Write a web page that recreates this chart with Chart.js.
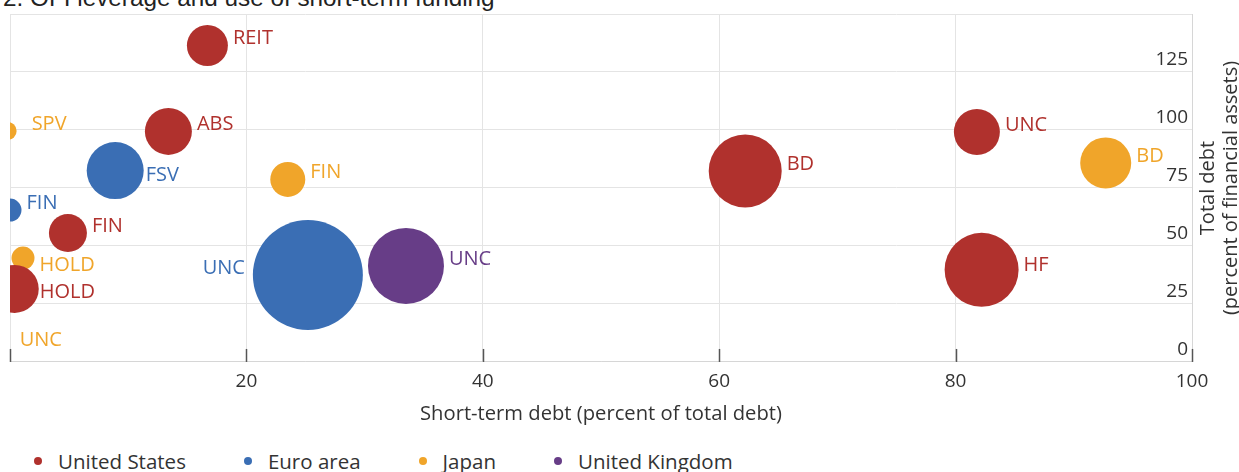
<!DOCTYPE html>
<html>
<head>
<meta charset="utf-8">
<script src="https://cdn.jsdelivr.net/npm/chart.js@4.4.0/dist/chart.umd.min.js"></script>
<style>
  html, body { margin: 0; padding: 0; background: #fff; }
  body { width: 1239px; height: 472px; position: relative; overflow: hidden; font-family: "Open Sans", sans-serif; }
  #title { position: absolute; left: 3px; top: -14px; font: 24.3px/24px "Liberation Sans", Arial, sans-serif; color: #222; white-space: nowrap; }
  #chartBox { position: absolute; left: 0; top: 0; width: 1239px; height: 440px; }
  #legend { position: absolute; left: 34px; top: 447px; display: flex; gap: 58px; font-size: 20.5px; color: #333; white-space: nowrap; }
  .item { display: flex; align-items: center; }
  .dot { width: 8px; height: 8px; border-radius: 50%; margin-right: 16px; }
</style>
</head>
<body>
<div id="title">2. OFI leverage and use of short-term funding</div>
<div id="chartBox"><canvas id="myChart"></canvas></div>
<div id="legend"></div>
<script>
// series
const seriesNames = ["United States", "Euro area", "Japan", "United Kingdom"];
const seriesColors = ["#B0312D", "#3A6EB4", "#F0A52A", "#673D87"];

// x = short-term debt (% of total debt), y = total debt (% of financial assets), r = bubble size
const usSectors = ["REIT", "ABS", "FIN", "HOLD", "BD", "UNC", "HF"];
const usShortTerm = [16.7, 13.4, 4.9, 0.4, 62.2, 81.8, 82.2];
const usTotalDebt = [136.4, 99.4, 55.6, 31.5, 82.3, 99.1, 39.7];
const usSize = [20.5, 23.5, 19, 24, 36.5, 23, 37];

const euSectors = ["FSV", "FIN", "UNC"];
const euShortTerm = [8.9, 0, 25.2];
const euTotalDebt = [82.5, 65.5, 37.5];
const euSize = [28.5, 11.5, 55];

const jpSectors = ["SPV", "FIN", "HOLD", "UNC", "BD"];
const jpShortTerm = [-0.2, 23.5, 1.1, 0.4, 92.7];
const jpTotalDebt = [99.6, 78.7, 44.8, 6.5, 85.8];
const jpSize = [9, 17.5, 11.5, 0, 25.5];

const ukSectors = ["UNC"];
const ukShortTerm = [33.5];
const ukTotalDebt = [41.4];
const ukSize = [38];

const xTicks = [0, 20, 40, 60, 80, 100];
const yTicks = [0, 25, 50, 75, 100, 125, 150];

// label placement tweaks (series:sector)
const labelNudge = {
    "Euro area:UNC": { side: "left", gap: 8 },
    "Euro area:FSV": { dy: 12, gap: 2 },
    "Japan:HOLD": { dy: 14 },
    "United States:HOLD": { dy: 10, gap: 1 },
    "United States:HF": { dy: 2 },
    "Japan:SPV": { gap: 15 }
};

function makePoints(xs, ys, rs) {
    return xs.map(function (x, i) { return { x: x, y: ys[i], r: rs[i] }; });
}

const allSeries = [
    [usSectors, usShortTerm, usTotalDebt, usSize],
    [euSectors, euShortTerm, euTotalDebt, euSize],
    [jpSectors, jpShortTerm, jpTotalDebt, jpSize],
    [ukSectors, ukShortTerm, ukTotalDebt, ukSize]
];

const datasets = allSeries.map(function (s, i) {
    return {
        label: seriesNames[i],
        sectors: s[0],
        data: makePoints(s[1], s[2], s[3]),
        backgroundColor: seriesColors[i],
        borderColor: seriesColors[i],
        borderWidth: 0,
        clip: { left: 0, top: false, right: false, bottom: false }
    };
});

const FONT = "'Open Sans', sans-serif";

// sector names next to bubbles
const bubbleLabels = {
    id: "bubbleLabels",
    afterDatasetsDraw(chart) {
        const ctx = chart.ctx;
        ctx.save();
        ctx.font = "20px " + FONT;
        ctx.textBaseline = "middle";
        chart.data.datasets.forEach(function (ds, i) {
            const meta = chart.getDatasetMeta(i);
            meta.data.forEach(function (pt, j) {
                const name = ds.sectors[j];
                const n = labelNudge[ds.label + ":" + name] || {};
                const r = pt.options.radius;
                const gap = n.gap !== undefined ? n.gap : 5;
                const y = pt.y - 7 + (n.dy || 0);
                ctx.fillStyle = ds.backgroundColor;
                if (n.side === "left") {
                    ctx.textAlign = "right";
                    ctx.fillText(name, pt.x - r - gap, y);
                } else {
                    ctx.textAlign = "left";
                    ctx.fillText(name, pt.x + r + gap, y);
                }
            });
        });
        ctx.restore();
    }
};

// inward tick marks on the x axis + y axis title (reads bottom to top)
const axisExtras = {
    id: "axisExtras",
    beforeDatasetsDraw(chart) {
        const ctx = chart.ctx;
        const xs = chart.scales.x;
        const bottom = chart.chartArea.bottom;
        ctx.save();
        ctx.strokeStyle = "#555";
        ctx.lineWidth = 1.5;
        xs.ticks.forEach(function (t) {
            const px = Math.round(xs.getPixelForValue(t.value)) + 0.5;
            ctx.beginPath();
            ctx.moveTo(px, bottom - 13);
            ctx.lineTo(px, bottom);
            ctx.stroke();
        });
        ctx.restore();
    },
    afterDraw(chart) {
        const ctx = chart.ctx;
        const area = chart.chartArea;
        const cy = (area.top + area.bottom) / 2;
        ctx.save();
        ctx.fillStyle = "#333";
        ctx.font = "20px " + FONT;
        ctx.textAlign = "center";
        ctx.textBaseline = "middle";
        ctx.translate(area.right + 16, cy);
        ctx.rotate(-Math.PI / 2);
        ctx.fillText("Total debt", 0, 0);
        ctx.fillText("(percent of financial assets)", 0, 23);
        ctx.restore();
    }
};

let chartConfig = {
    type: "bubble",
    data: { datasets: datasets },
    options: {
        responsive: true,
        maintainAspectRatio: false,
        animation: false,
        events: [],
        layout: {
            autoPadding: false,
            padding: { left: 10, top: 14, right: 47, bottom: 14 }
        },
        plugins: {
            legend: { display: false },
            tooltip: { enabled: false }
        },
        scales: {
            x: {
                type: "linear",
                min: xTicks[0],
                max: xTicks[xTicks.length - 1],
                afterBuildTicks: function (axis) {
                    axis.ticks = xTicks.map(function (v) { return { value: v }; });
                },
                grid: { color: "#e4e4e4", drawTicks: false },
                border: { display: true, color: "#d6d6d6" },
                ticks: {
                    padding: 8,
                    color: "#333",
                    font: { size: 19, family: FONT },
                    callback: function (v) { return v === 0 ? "" : v; }
                },
                title: {
                    display: true,
                    text: "Short-term debt (percent of total debt)",
                    color: "#333",
                    font: { size: 20.2, family: FONT },
                    padding: { top: 1, bottom: 0 }
                }
            },
            y: {
                type: "linear",
                position: "right",
                min: yTicks[0],
                max: yTicks[yTicks.length - 1],
                afterBuildTicks: function (axis) {
                    axis.ticks = yTicks.map(function (v) { return { value: v }; });
                },
                grid: { color: "#e4e4e4", drawTicks: false },
                border: { display: true, color: "#d6d6d6" },
                ticks: {
                    mirror: true,
                    padding: -4,
                    labelOffset: -12,
                    color: "#333",
                    font: { size: 19, family: FONT },
                    callback: function (v) { return v === 150 ? "" : v; }
                }
            }
        }
    },
    plugins: [bubbleLabels, axisExtras]
};

const chart = new Chart(document.getElementById("myChart"), chartConfig);

// legend built from the datasets
const legendEl = document.getElementById("legend");
chart.data.datasets.forEach(function (ds) {
    const item = document.createElement("div");
    item.className = "item";
    const dot = document.createElement("span");
    dot.className = "dot";
    dot.style.background = ds.backgroundColor;
    const txt = document.createElement("span");
    txt.textContent = ds.label;
    item.appendChild(dot);
    item.appendChild(txt);
    legendEl.appendChild(item);
});
</script>
</body>
</html>
